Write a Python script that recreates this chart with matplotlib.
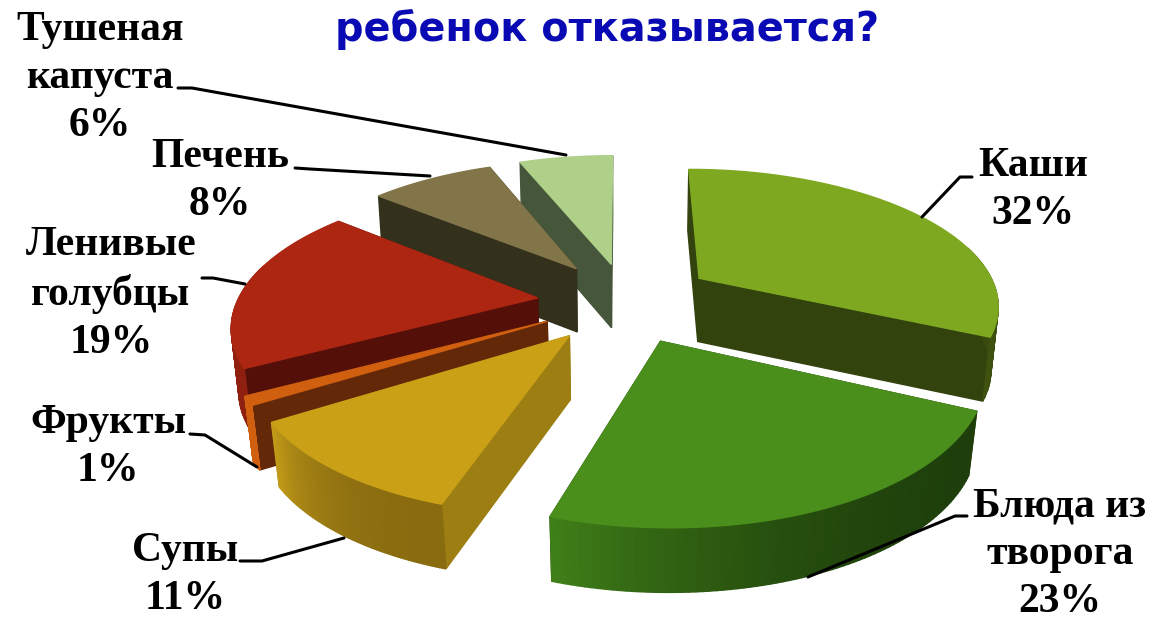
import numpy as np
import matplotlib
matplotlib.use("Agg")
import matplotlib.pyplot as plt
from matplotlib.patches import Polygon
from matplotlib.colors import to_rgb

# Data
labels = ["Каши", "Блюда из\nтворога", "Супы", "Фрукты", "Ленивые\nголубцы", "Печень", "Тушеная\nкапуста"]
values = [32, 23, 11, 1, 19, 8, 6]
explode = [0.28, 0.33, 0.26, 0.26, 0.24, 0.22, 0.16]

# small screen shift per slice, px
nudge_x = [10, -1, -1, -4, -11, -6, 0]
nudge_y = [3, 3, 12, 8, 6, -3, -10]

# Colours: top, cut face, outer side at start and end of the arc
top_colors = ["#7fa821", "#4a8e1c", "#c9a016", "#d05f10", "#ad2612", "#82754a", "#afd088"]
cut_colors = ["#33430e", "#1e3f0b", "#9c7e12", "#632807", "#530f08", "#33301c", "#46563a"]
side_a = ["#33430e", "#1e3f0b", "#8a6c10", "#d05f10", "#8f1f0e", "#33301c", "#46563a"]
side_b = ["#3f5210", "#3f7f18", "#c09a18", "#d05f10", "#a02413", "#33301c", "#46563a"]

# Projection settings (pixels of the 1151x617 picture)
CX, CY = 620, 295
A, B = 300, 135
K = 0.18
DEPTH = 64
Z_SHRINK = 0.02


def project(x, y, z=0.0):
    s = 1 / (1 + K * y + Z_SHRINK * z)
    return CX + A * x * s, CY - B * y * s + DEPTH * z * s ** 0.4


fig = plt.figure(figsize=(11.51, 6.17), dpi=100)
ax = fig.add_axes([0, 0, 1, 1])
ax.set_xlim(0, 1151)
ax.set_ylim(617, 0)
ax.axis("off")

total = sum(values)
fractions = np.cumsum([0] + values) / total
slices = []
for i in range(len(values)):
    t0 = fractions[i] * 2 * np.pi
    t1 = fractions[i + 1] * 2 * np.pi
    mid = (t0 + t1) / 2
    ox, oy = explode[i] * np.sin(mid), explode[i] * np.cos(mid)
    t = np.linspace(t0, t1, 80)
    slices.append((i, t, ox, oy, oy + np.cos(mid) * 0.5))

# back slices first
slices.sort(key=lambda s: -s[4])


def add_shape(points, i, color):
    pts = [(x + nudge_x[i], y + nudge_y[i]) for x, y in points]
    ax.add_patch(Polygon(pts, closed=True, fc=color, ec=color, lw=1))


for i, t, ox, oy, _ in slices:
    xs = ox + np.sin(t)
    ys = oy + np.cos(t)
    # cut faces
    for ex, ey in ((xs[0], ys[0]), (xs[-1], ys[-1])):
        add_shape([project(ox, oy), project(ex, ey), project(ex, ey, 1), project(ox, oy, 1)], i, cut_colors[i])
    # outer wall, drawn as strips so it shades along the rim
    c0, c1 = np.array(to_rgb(side_a[i])), np.array(to_rgb(side_b[i]))
    for j in range(len(t) - 1):
        if np.cos(t[j]) > 0.25 and ys[j] > oy:
            continue
        f = (j / (len(t) - 2)) ** 2.5
        col = c0 + (c1 - c0) * f
        add_shape([project(xs[j], ys[j]), project(xs[j + 1], ys[j + 1]),
                   project(xs[j + 1], ys[j + 1], 1), project(xs[j], ys[j], 1)], i, col)
    # top
    top = [project(ox, oy)] + [project(a, b) for a, b in zip(xs, ys)]
    add_shape(top, i, top_colors[i])

# Labels and leader lines
label_font = dict(family="Liberation Serif", fontweight="bold", fontsize=30, color="black",
                  ha="center", va="center", linespacing=1.33)
label_xy = [(1033, 190), (1060, 554), (185, 575), (108, 447), (111, 294), (220, 181), (100, 78)]
leaders = [
    [(972, 177), (960, 177), (922, 217)],
    [(967, 516), (955, 516), (808, 577)],
    [(240, 561), (262, 561), (344, 538)],
    [(190, 434), (205, 435), (257, 467)],
    [(202, 278), (213, 278), (245, 284)],
    [(295, 168), (310, 169), (430, 176)],
    [(178, 88), (192, 88), (566, 155)],
]
for name, value, xy, line in zip(labels, values, label_xy, leaders):
    ax.text(xy[0], xy[1], f"{name}\n{value}%", **label_font)
    ax.plot(*zip(*line), color="black", lw=2.2, solid_capstyle="round")

ax.text(607, 29, "ребенок отказывается?", family="DejaVu Sans", fontweight="bold",
        fontsize=28.6, color="#0a0ab4", ha="center", va="center")

fig.savefig("out.png", dpi=100)
